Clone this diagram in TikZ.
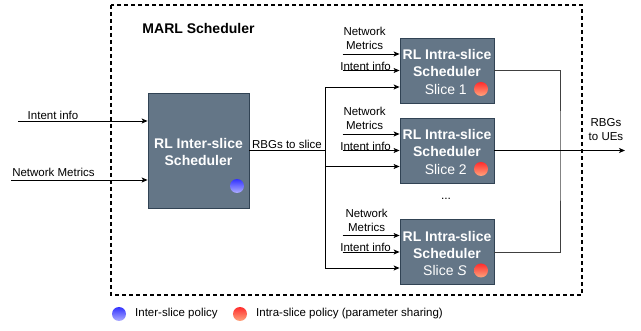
\documentclass[tikz,border=0pt]{standalone}
\usepackage{fontspec}
\setmainfont{Liberation Sans}
\usetikzlibrary{arrows.meta,calc}
\definecolor{boxfill}{HTML}{647687}
\definecolor{boxline}{HTML}{314354}
\tikzset{
  sched/.style={draw=boxline,line width=0.8pt,fill=boxfill,inner sep=0pt},
  boxtxt/.style={text=white,font=\fontsize{14}{17}\selectfont\bfseries,align=center,inner sep=0pt},
  slicetxt/.style={text=white,font=\fontsize{14}{17}\selectfont,inner sep=0pt,anchor=east},
  lbl/.style={font=\fontsize{11.5}{14}\selectfont,inner sep=0pt,align=center},
  arr/.style={-{Stealth[length=6pt,width=5pt,inset=1.5pt]},line width=0.9pt},
  wire/.style={line width=0.9pt},
  redball/.style={circle,minimum size=14pt,inner sep=0pt,top color={rgb,255:red,255;green,45;blue,45},bottom color={rgb,255:red,255;green,165;blue,125}},
  blueball/.style={circle,minimum size=14pt,inner sep=0pt,top color={rgb,255:red,50;green,50;blue,255},bottom color={rgb,255:red,175;green,175;blue,255}},
}
\begin{document}
\begin{tikzpicture}[x=1pt,y=-1pt]
\useasboundingbox (0,0) rectangle (641,331);
% outer dashed frame
\draw[line width=1.2pt,dash pattern=on 4pt off 3pt] (111,5) rectangle (582,295);
\node[font=\fontsize{14}{17}\selectfont\bfseries,inner sep=0pt] (title) at (198.5,28) {MARL Scheduler};

% inter-slice scheduler
\node[sched,minimum width=101pt,minimum height=115pt] (inter) at (198.5,150.5) {};
\node[boxtxt] (intertxt) at (198.5,152) {RL Inter-slice\\Scheduler};
\node[blueball] (bb) at (237,186) {};

% intra-slice schedulers
\foreach \n/\y/\lab in {s1/70.5/{Slice 1},s2/150.5/{Slice 2},sS/252/{Slice \textit{S}}}{
  \node[sched,minimum width=94pt,minimum height=65pt] (\n) at (447,\y) {};
  \node[boxtxt] (\n t) at (447,\y-7.5) {RL Intra-slice\\Scheduler};
  \node[slicetxt] (\n l) at (467,\y+18.5) {\lab};
  \node[redball] (\n b) at (481,\y+18.5) {};
}
\node[font=\fontsize{12}{14}\selectfont,inner sep=0pt] (dots) at (446,199) {...};

% left inputs
\coordinate (inI) at (18,121);
\coordinate (inN) at (11,180);
\draw[arr] (inI) -- (inter.west |- inI);
\draw[arr] (inN) -- (inter.west |- inN);
\node[lbl] (lI) at (53,115) {Intent info};
\node[lbl] (lN) at (53.5,172) {Network Metrics};

% RBGs to slice
\coordinate (split) at (325,150.5);
\draw[wire] (inter.east) -- (split);
\node[lbl] (lR) at (287,144) {RBGs to slice};
\draw[arr] (split) |- ($(s1.west)+(0,16.5)$);
\draw[arr] (split) |- ($(s2.west)+(0,16)$);
\draw[arr] (split) |- ($(sS.west)+(0,16)$);

% intra inputs
\foreach \n/\dx in {s1/0,s2/0,sS/2}{
  \coordinate (\n nm) at ($(\n.west)+(-57,-16.5)$);
  \coordinate (\n ii) at ($(\n.west)+(-57,0)$);
  \draw[arr] (\n nm) -- ($(\n.west)+(0,-16.5)$);
  \draw[arr] (\n ii) -- (\n.west);
  \node[lbl] (\n nml) at ($(\n.west)+(-35+\dx,-32)$) {Network\\Metrics};
  \node[lbl] (\n iil) at ($(\n.west)+(-34,-4.5)$) {Intent info};
}

% outputs
\coordinate (jx) at (560,150.5);
\draw[wire,draw=black!75] (s1.east) -| (jx) |- (sS.east);
\coordinate (out) at (625,150.5);
\draw[arr] (s2.east) -- (out);
\node[lbl] (lO) at (606,130) {RBGs\\to UEs};

% legend
\node[blueball] (lgb) at (119,314) {};
\node[lbl,anchor=west] (lgbt) at (135,314) {Inter-slice policy};
\node[redball] (lgr) at (240,314) {};
\node[lbl,anchor=west] (lgrt) at (256,314) {Intra-slice policy (parameter sharing)};
\end{tikzpicture}
\end{document}
